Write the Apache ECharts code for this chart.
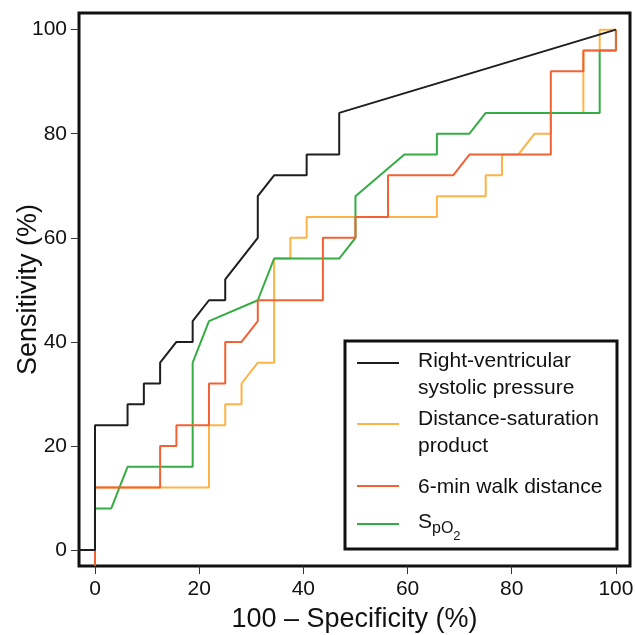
<!DOCTYPE html>
<html>
<head>
<meta charset="utf-8">
<script src="https://cdn.jsdelivr.net/npm/echarts@6/dist/echarts.min.js"></script>
<style>
html,body{margin:0;padding:0;background:#fff;}
#chart{width:635px;height:635px;}
</style>
</head>
<body>
<div id="chart"></div>
<script>
// Tick labels
var xTicks = [0, 20, 40, 60, 80, 100];
var yTicks = [0, 20, 40, 60, 80, 100];

// ROC curves: [100 - specificity, sensitivity]
var rvsp = [[-3,0],[0,0],[0,24],[6.25,24],[6.25,28],[9.38,28],[9.38,32],[12.5,32],[12.5,36],[15.63,40],[18.75,40],[18.75,44],[21.88,48],[25,48],[25,52],[31.25,60],[31.25,68],[34.38,72],[40.63,72],[40.63,76],[46.88,76],[46.88,84],[100,100]];
var dsp = [[0,0],[0,12],[21.88,12],[21.88,24],[25,24],[25,28],[28.13,28],[28.13,32],[31.25,36],[34.38,36],[34.38,56],[37.5,56],[37.5,60],[40.63,60],[40.63,64],[65.63,64],[65.63,68],[75,68],[75,72],[78.13,72],[78.13,76],[81.25,76],[84.38,80],[87.5,80],[87.5,84],[93.75,84],[93.75,96],[96.88,96],[96.88,100],[100,100]];
var walk6 = [[0,-3],[0,12],[12.5,12],[12.5,20],[15.63,20],[15.63,24],[21.88,24],[21.88,32],[25,32],[25,40],[28.13,40],[31.25,44],[31.25,48],[43.75,48],[43.75,60],[50,60],[50,64],[56.25,64],[56.25,72],[68.75,72],[71.88,76],[87.5,76],[87.5,92],[93.75,92],[93.75,96],[100,96],[100,100]];
var spo2 = [[0,0],[0,8],[3.13,8],[6.25,16],[18.75,16],[18.75,36],[21.88,44],[31.25,48],[34.38,56],[46.88,56],[50,60],[50,68],[59.38,76],[65.63,76],[65.63,80],[71.88,80],[75,84],[96.88,84],[96.88,96],[100,96],[100,100]];

var seriesNames = ['Right-ventricular systolic pressure', 'Distance-saturation product', '6-min walk distance', 'SpO2'];
var legendTexts = ['Right-ventricular\nsystolic pressure', 'Distance-saturation\nproduct', '6-min walk distance', '{s|S}{p|pO}{n|2}'];
var colors = ['#1e1e1e', '#fdb347', '#f26234', '#35ad45'];

var FONT = '"Liberation Sans", Arial, Helvetica, sans-serif';

var chart = echarts.init(document.getElementById('chart'), null, {renderer: 'canvas'});

// legend layout (box + rows)
var legendBox = {x: 345, y: 341, w: 272, h: 208};
var legendLineY = [363, 424, 486, 524];
var legendTextY = [375, 433, 487, 522];
var graphics = [{
  type: 'rect', z: 100,
  shape: {x: legendBox.x, y: legendBox.y, width: legendBox.w, height: legendBox.h},
  style: {fill: '#fff', stroke: '#111', lineWidth: 3}
}];
for (var i = 0; i < 4; i++) {
  graphics.push({
    type: 'line', z: 101,
    shape: {x1: 357, y1: legendLineY[i], x2: 399, y2: legendLineY[i]},
    style: {stroke: colors[i], lineWidth: 1.8}
  });
  graphics.push({
    type: 'text', z: 101,
    style: {
      x: 418, y: legendTextY[i], text: legendTexts[i],
      fill: '#111', fontSize: 21, fontFamily: FONT, lineHeight: 26.7,
      verticalAlign: 'middle', align: 'left',
      rich: {
        s: {fontSize: 21, fontFamily: FONT, fill: '#111'},
        p: {fontSize: 16, fontFamily: FONT, fill: '#111', padding: [14, 0, 0, 0]},
        n: {fontSize: 13, fontFamily: FONT, fill: '#111', padding: [28, 0, 0, 0]}
      }
    }
  });
}

var order = [1, 3, 2, 0]; // drawing order: orange, green, red, black on top
var datasets = [rvsp, dsp, walk6, spo2];
var series = order.map(function (k) {
  return {
    name: seriesNames[k], type: 'line', data: datasets[k],
    showSymbol: false, symbol: 'none', animation: false,
    lineStyle: {color: colors[k], width: 2},
    itemStyle: {color: colors[k]},
    z: 2 + order.indexOf(k)
  };
});

chart.setOption({
  animation: false,
  backgroundColor: '#fff',
  grid: {left: 79, right: 5, top: 13, bottom: 69, containLabel: false, outerBoundsMode: 'none',
         show: true, borderColor: '#111', borderWidth: 3, backgroundColor: 'transparent'},
  xAxis: {
    type: 'value', min: -3.07, max: 102.7,
    name: '100 \u2013 Specificity (%)', nameLocation: 'middle', nameGap: 40, nameMoveOverlap: false,
    nameTextStyle: {fontSize: 27, fontFamily: FONT, color: '#111'},
    axisLine: {show: false, onZero: false},
    axisTick: {show: true, inside: false, length: 8, customValues: xTicks, lineStyle: {color: '#333', width: 1}},
    axisLabel: {customValues: xTicks, fontSize: 21, fontFamily: FONT, color: '#111', margin: 13},
    splitLine: {show: false}
  },
  yAxis: {
    type: 'value', min: -3.07, max: 103.2,
    name: 'Sensitivity (%)', nameLocation: 'middle', nameGap: 37, nameRotate: 90, nameMoveOverlap: false,
    nameTextStyle: {fontSize: 27, fontFamily: FONT, color: '#111'},
    axisLine: {show: false, onZero: false},
    axisTick: {show: true, inside: false, length: 8, customValues: yTicks, lineStyle: {color: '#333', width: 1}},
    axisLabel: {customValues: yTicks, fontSize: 21, fontFamily: FONT, color: '#111', margin: 12},
    splitLine: {show: false}
  },
  graphic: graphics,
  series: series
});
</script>
</body>
</html>
